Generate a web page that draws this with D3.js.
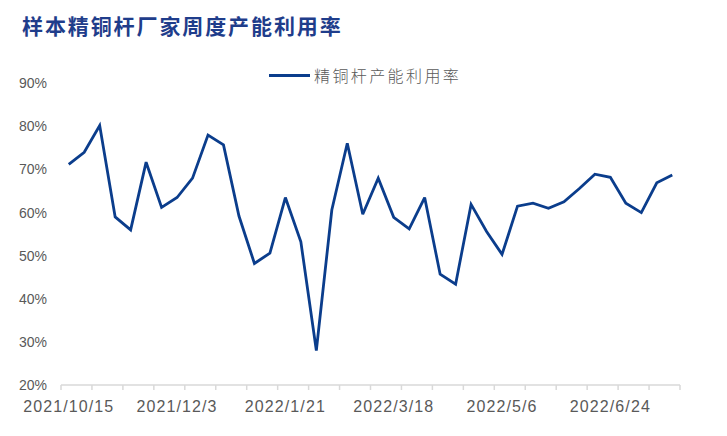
<!DOCTYPE html>
<html>
<head>
<meta charset="utf-8">
<script src="https://cdn.jsdelivr.net/npm/d3@7"></script>
<style>
  html, body { margin: 0; padding: 0; background: #fff; }
  svg { display: block; }
</style>
</head>
<body>
<div id="chart"></div>
<script>
const title = "样本精铜杆厂家周度产能利用率";
const seriesName = "精铜杆产能利用率";
const dates = [
  "2021/10/15","2021/10/22","2021/10/29","2021/11/5","2021/11/12","2021/11/19","2021/11/26",
  "2021/12/3","2021/12/10","2021/12/17","2021/12/24","2021/12/31","2022/1/7","2022/1/14",
  "2022/1/21","2022/1/28","2022/2/11","2022/2/18","2022/2/25","2022/3/4","2022/3/11",
  "2022/3/18","2022/3/25","2022/4/1","2022/4/8","2022/4/15","2022/4/22","2022/4/29",
  "2022/5/6","2022/5/13","2022/5/20","2022/5/27","2022/6/3","2022/6/10","2022/6/17",
  "2022/6/24","2022/7/1","2022/7/8","2022/7/15","2022/7/22"
];
const values = [
  71.2, 74.0, 80.2, 59.0, 56.0, 71.7, 61.2, 63.5, 68.0, 78.0,
  75.7, 59.2, 48.2, 50.6, 63.5, 53.2, 28.0, 60.6, 76.1, 59.6,
  68.0, 58.9, 56.2, 63.5, 45.7, 43.4, 61.9, 55.6, 50.3, 61.5,
  62.2, 61.0, 62.5, 65.6, 68.9, 68.2, 62.2, 60.0, 66.9, 68.7
];
const yTicks = [20, 30, 40, 50, 60, 70, 80, 90];
const labelEvery = 7;
const tickEvery = 2;

const W = 727, H = 436;
const svg = d3.select("#chart").append("svg").attr("width", W).attr("height", H);

const x = d3.scaleBand().domain(dates).range([61, 680]).paddingInner(0).paddingOuter(0);
const y = d3.scaleLinear().domain([20, 90]).range([385, 83.3]);

// title
svg.append("text")
  .attr("x", 22).attr("y", 34)
  .attr("font-family", "'Noto Sans CJK SC', sans-serif")
  .attr("font-weight", 700)
  .attr("font-size", 21)
  .attr("letter-spacing", 1.9)
  .attr("fill", "#1F3D8B")
  .text(title);

// y labels
svg.append("g").selectAll("text").data(yTicks).join("text")
  .attr("x", 47).attr("y", d => y(d)).attr("dy", "0.35em")
  .attr("text-anchor", "end")
  .attr("font-family", "'Liberation Sans', Arial, sans-serif")
  .attr("font-size", 14)
  .attr("fill", "#595959")
  .text(d => d + "%");

// x axis line + ticks
const axisG = svg.append("g");
axisG.append("line")
  .attr("x1", x.range()[0]).attr("x2", x.range()[1])
  .attr("y1", y(20)).attr("y2", y(20))
  .attr("stroke", "#d9d9d9").attr("stroke-width", 1.5);
const tickIdx = d3.range(0, dates.length + 1, tickEvery);
axisG.selectAll("line.tk").data(tickIdx).join("line").attr("class", "tk")
  .attr("x1", i => x.range()[0] + i * x.step())
  .attr("x2", i => x.range()[0] + i * x.step())
  .attr("y1", y(20)).attr("y2", y(20) + 5)
  .attr("stroke", "#d9d9d9").attr("stroke-width", 1.5);

// x labels
const labelDates = dates.filter((d, i) => i % labelEvery === 0);
axisG.selectAll("text").data(labelDates).join("text")
  .attr("x", d => x(d) + x.bandwidth() / 2)
  .attr("y", 412)
  .attr("text-anchor", "middle")
  .attr("font-family", "'Liberation Sans', Arial, sans-serif")
  .attr("font-size", 16)
  .attr("letter-spacing", 1.1)
  .attr("fill", "#595959")
  .text(d => d);

// line
const line = d3.line()
  .x((d, i) => x(dates[i]) + x.bandwidth() / 2)
  .y(d => y(d));
svg.append("path")
  .datum(values)
  .attr("d", line)
  .attr("fill", "none")
  .attr("stroke", "#0B3D8C")
  .attr("stroke-width", 2.8)
  .attr("stroke-linejoin", "miter")
  .attr("stroke-miterlimit", 3);

// legend
const lg = svg.append("g");
lg.append("line")
  .attr("x1", 269).attr("x2", 310).attr("y1", 75.5).attr("y2", 75.5)
  .attr("stroke", "#0B3D8C").attr("stroke-width", 2.8);
lg.append("text")
  .attr("x", 314).attr("y", 76).attr("dy", "0.35em")
  .attr("font-family", "'Noto Sans CJK SC', sans-serif")
  .attr("font-weight", 300)
  .attr("font-size", 16)
  .attr("letter-spacing", 2.4)
  .attr("fill", "#595959")
  .text(seriesName);
</script>
</body>
</html>
